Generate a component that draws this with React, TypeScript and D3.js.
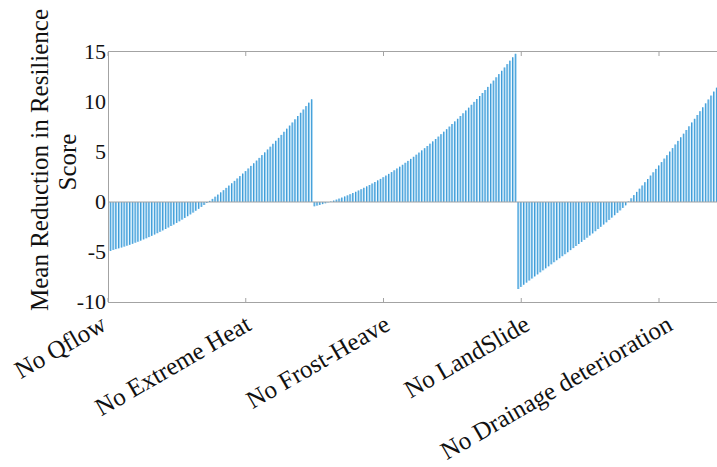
import React from "react";
import * as d3 from "d3";

const categories = ["No Qflow", "No Extreme Heat", "No Frost-Heave", "No LandSlide", "No Drainage deterioration"];
const categoryTicks = [0, 50, 100, 150, 200];
const yTicks = [15, 10, 5, 0, -5, -10];

const seriesA = [-4.9, -4.79, -4.71, -4.63, -4.55, -4.46, -4.37, -4.28, -4.18, -4.07, -3.97, -3.86, -3.74, -3.63, -3.51, -3.38, -3.25, -3.12, -2.98, -2.84, -2.70, -2.55, -2.40, -2.25, -2.09, -1.93, -1.76, -1.59, -1.42, -1.24, -1.06, -0.87, -0.68, -0.49, -0.30, -0.10, 0.11, 0.31, 0.53, 0.74, 0.96, 1.18, 1.41, 1.64, 1.87, 2.11, 2.35, 2.59, 2.84, 3.09, 3.35, 3.61, 3.87, 4.14, 4.41, 4.69, 4.96, 5.25, 5.53, 5.82, 6.12, 6.41, 6.71, 7.02, 7.33, 7.64, 7.95, 8.27, 8.60, 8.92, 9.25, 9.59, 9.93, 10.27];
const seriesB = [-0.43, -0.36, -0.29, -0.21, -0.13, -0.04, 0.05, 0.14, 0.24, 0.34, 0.44, 0.55, 0.66, 0.78, 0.90, 1.02, 1.15, 1.28, 1.42, 1.56, 1.70, 1.85, 2.00, 2.16, 2.31, 2.48, 2.64, 2.81, 2.99, 3.17, 3.35, 3.53, 3.72, 3.92, 4.11, 4.31, 4.52, 4.73, 4.94, 5.16, 5.38, 5.60, 5.83, 6.06, 6.30, 6.54, 6.78, 7.03, 7.28, 7.54, 7.80, 8.06, 8.32, 8.60, 8.87, 9.15, 9.43, 9.72, 10.01, 10.30, 10.60, 10.90, 11.20, 11.51, 11.83, 12.14, 12.47, 12.79, 13.12, 13.45, 13.79, 14.13, 14.47, 14.82];
const seriesC = [-8.70, -8.49, -8.27, -8.06, -7.85, -7.65, -7.44, -7.24, -7.03, -6.83, -6.63, -6.43, -6.23, -6.02, -5.82, -5.62, -5.42, -5.22, -5.02, -4.81, -4.61, -4.40, -4.20, -3.99, -3.78, -3.57, -3.35, -3.14, -2.92, -2.70, -2.48, -2.25, -2.03, -1.79, -1.56, -1.32, -1.08, -0.84, -0.59, -0.33, 0.06, 0.37, 0.69, 1.01, 1.33, 1.65, 1.98, 2.30, 2.64, 2.97, 3.31, 3.65, 3.99, 4.34, 4.68, 5.04, 5.39, 5.75, 6.11, 6.47, 6.83, 7.20, 7.57, 7.95, 8.32, 8.70, 9.08, 9.47, 9.86, 10.25, 10.64, 11.04, 11.43, 11.84, 12.24];

const W = 717;
const H = 467;
const left = 108;
const top = 52;
const bottom = 302;
const labelShift = [0, 7, 8, 10, 15];
const FONT = "'Liberation Serif', 'Times New Roman', serif";

export default function App() {
  const values = [...seriesA, ...seriesB, ...seriesC];
  const x = d3.scaleLinear().domain([0, 221.05]).range([left, W]);
  const y = d3.scaleLinear().domain([-10, 15]).range([bottom, top]);
  const bw = 1.9;
  const axisColor = "#a3a3a3";

  return (
    <>
      <style>{`body{margin:0}`}</style>
      <svg width={W} height={H} style={{ display: "block", background: "#fff" }}>
        <defs>
          <clipPath id="plot">
            <rect x={left} y={top - 2} width={W - left} height={bottom - top + 4} />
          </clipPath>
        </defs>
        <g clipPath="url(#plot)">
          {values.map((v, k) => {
            const i = k + 1;
            const cx = x(i);
            const y0 = y(0);
            const y1 = y(v);
            return (
              <g key={k}>
                <rect x={cx - bw / 2} y={Math.min(y0, y1)} width={bw} height={Math.abs(y1 - y0)} fill="#9ad0f1" />
                <rect x={cx - bw / 2} y={Math.min(y0, y1)} width={0.9} height={Math.abs(y1 - y0)} fill="#3797d4" />
              </g>
            );
          })}
        </g>
        <line x1={left} x2={W} y1={y(0)} y2={y(0)} stroke={axisColor} strokeWidth={1} />
        <line x1={left + 0.5} x2={left + 0.5} y1={top} y2={bottom} stroke={axisColor} strokeWidth={1} />
        <line x1={left} x2={W} y1={top - 0.5} y2={top - 0.5} stroke={axisColor} strokeWidth={1} />
        <line x1={left} x2={W} y1={bottom + 0.5} y2={bottom + 0.5} stroke={axisColor} strokeWidth={1} />
        {categoryTicks.map((t, k) => (
          <g key={"t" + k}>
            <line x1={x(t)} x2={x(t)} y1={top} y2={top + 4} stroke={axisColor} />
            <line x1={x(t)} x2={x(t)} y1={bottom} y2={bottom - 4} stroke={axisColor} />
          </g>
        ))}
        {yTicks.map((t) => (
          <text key={"y" + t} x={left - 2} y={y(t)} dy="0.34em" textAnchor="end" fontFamily={FONT} fontSize={22} fill="#111">
            {t}
          </text>
        ))}
        {categories.map((c, k) => (
          <text
            key={c}
            transform={`translate(${x(categoryTicks[k]) + labelShift[k]},329) rotate(-30)`}
            textAnchor="end"
            fontFamily={FONT}
            fontSize={25}
            fill="#111"
          >
            {c}
          </text>
        ))}
        <text transform={`translate(48,160) rotate(-90)`} textAnchor="middle" fontFamily={FONT} fontSize={25} fill="#111">
          Mean Reduction in Resilience
        </text>
        <text transform={`translate(76,162) rotate(-90)`} textAnchor="middle" fontFamily={FONT} fontSize={25} fill="#111">
          Score
        </text>
      </svg>
    </>
  );
}
